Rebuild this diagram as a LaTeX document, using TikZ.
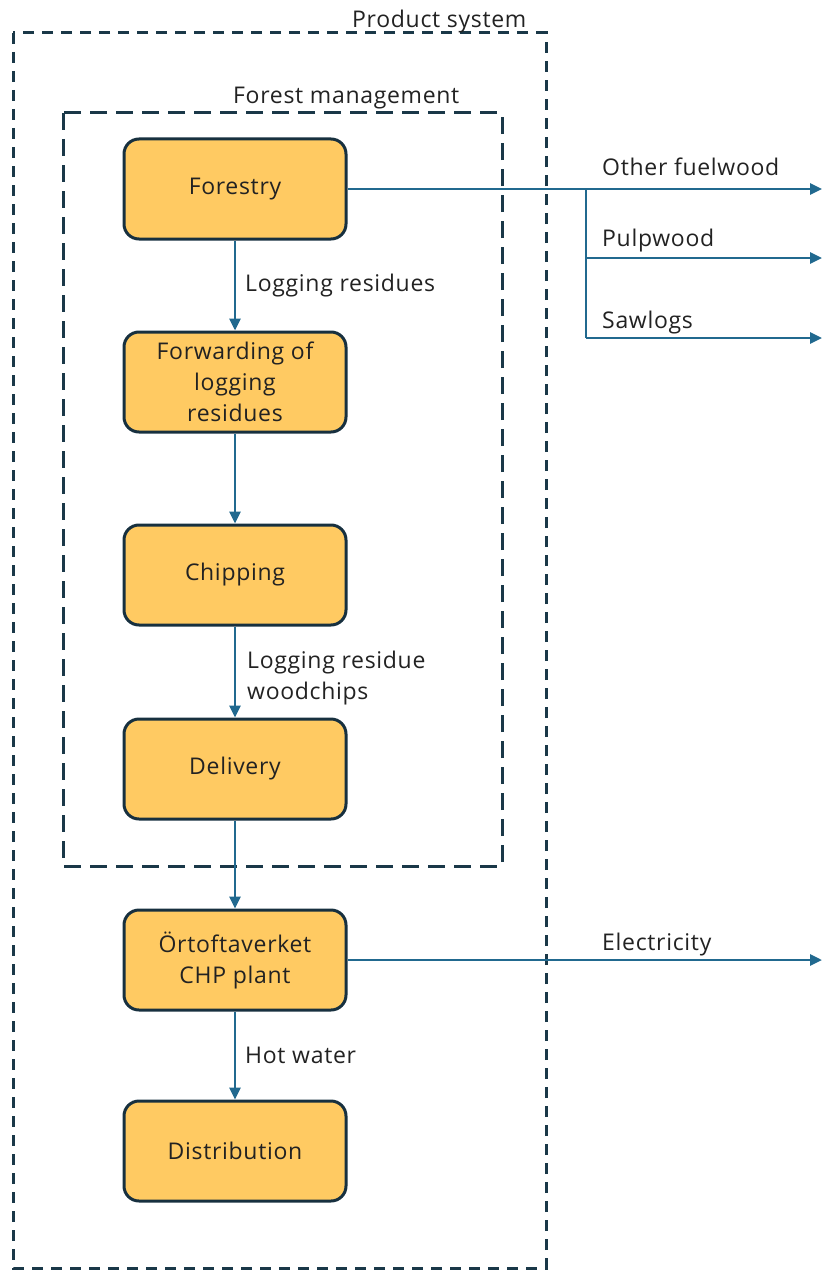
\documentclass[tikz,border=0pt]{standalone}
\usepackage{fontspec}
\setmainfont{Open Sans}[LetterSpace=3]
\usetikzlibrary{arrows.meta}
\definecolor{boxfill}{HTML}{FFCA62}
\definecolor{boxline}{HTML}{17303F}
\definecolor{flow}{HTML}{21698F}
\definecolor{frame}{HTML}{1A3848}
\definecolor{txt}{HTML}{222222}
\begin{document}
\begin{tikzpicture}[x=1pt,y=-1pt,
  proc/.style={draw=boxline,line width=3pt,fill=boxfill,rounded corners=15pt,
    minimum width=222pt,minimum height=100pt,align=center,text=txt,
    font=\fontsize{23}{31}\selectfont,inner sep=2pt},
  flowline/.style={draw=flow,line width=2.8pt,-{Triangle[length=12pt,width=11pt]}},
  branch/.style={draw=flow,line width=2.8pt},
  lbl/.style={text=txt,font=\fontsize{23}{31}\selectfont,anchor=base west,inner sep=0pt,align=left},
  outerframe/.style={draw=frame,line width=3pt,dash pattern=on 11pt off 8pt},
  innerframe/.style={draw=frame,line width=3pt,dash pattern=on 17pt off 9pt}]
\useasboundingbox (0,0) rectangle (823,1271);

% system boundaries
\draw[outerframe] (13,33) rectangle (546,1268);
\draw[innerframe] (63,113) rectangle (502,866);
\node[lbl] (psys) at (352,28) {Product system};
\node[lbl] (fmgmt) at (233,104) {Forest management};

% process chain
\node[proc] (forestry) at (235,189) {Forestry};
\node[proc] (forward) at (235,382) {Forwarding of\\logging\\residues};
\node[proc] (chip) at (235,575) {Chipping};
\node[proc] (deliv) at (235,769) {Delivery};
\node[proc] (chp) at (235,960) {Örtoftaverket\\CHP plant};
\node[proc] (distr) at (235,1151) {Distribution};

\draw[flowline] (forestry) -- (forward);
\draw[flowline] (forward) -- (chip);
\draw[flowline] (chip) -- (deliv);
\draw[flowline] (deliv) -- (chp);
\draw[flowline] (chp) -- (distr);

\node[lbl] (l1) at (245,291) {Logging residues};
\node[lbl] (l2) at (247,699) {Logging residue\\woodchips};
\node[lbl] (l3) at (245,1063) {Hot water};

% outputs leaving the system
\coordinate (split) at (586,189);
\coordinate (fuelend) at (822,189);
\coordinate (pulpend) at (822,258);
\coordinate (sawend) at (822,338);
\coordinate (pulpknee) at (586,258);
\coordinate (sawknee) at (586,338);
\coordinate (elecend) at (822,960);

\draw[flowline] (forestry.east) -- (fuelend);
\draw[branch] (split) -- (sawknee);
\draw[flowline] (pulpknee) -- (pulpend);
\draw[flowline] (sawknee) -- (sawend);
\draw[flowline] (chp.east) -- (elecend);

\node[lbl] (o1) at (602,175) {Other fuelwood};
\node[lbl] (o2) at (602,246) {Pulpwood};
\node[lbl] (o3) at (602,328) {Sawlogs};
\node[lbl] (o4) at (602,950) {Electricity};
\end{tikzpicture}
\end{document}
